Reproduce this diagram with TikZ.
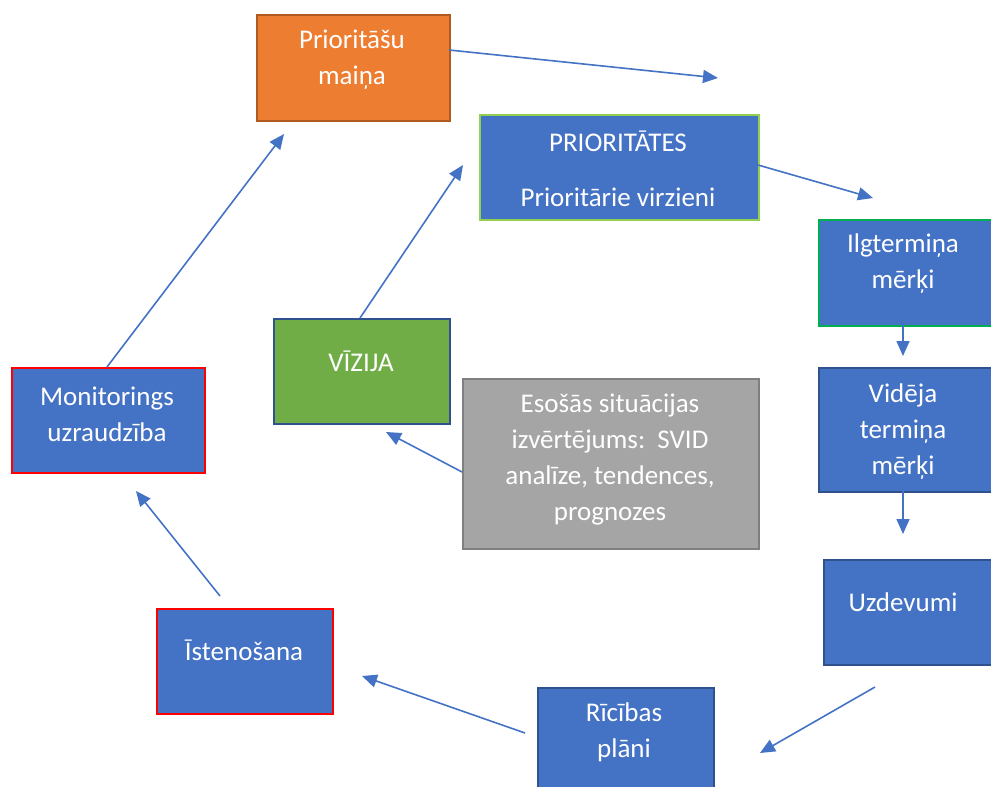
\documentclass[tikz,border=0pt]{standalone}
\usepackage{fontspec}
\setmainfont{Carlito}
\usetikzlibrary{arrows.meta}
\definecolor{bfill}{HTML}{4472C4}
\definecolor{bdraw}{HTML}{2F528F}
\definecolor{ofill}{HTML}{ED7D31}
\definecolor{odraw}{HTML}{AE5A21}
\definecolor{gfill}{HTML}{70AD47}
\definecolor{lgreen}{HTML}{92D050}
\definecolor{dgreen}{HTML}{00B050}
\definecolor{rdraw}{HTML}{FF0000}
\definecolor{grfill}{HTML}{A5A5A5}
\definecolor{grdraw}{HTML}{7F7F7F}
\definecolor{arr}{HTML}{4472C4}
\tikzset{
  box/.style={draw=bdraw, fill=bfill, line width=1.8pt, inner sep=0pt, anchor=north west},
  txt/.style={text=white, font=\fontsize{27}{36}\selectfont, align=center, inner sep=0pt},
  conn/.style={draw=arr, line width=1.6pt, -{Triangle[length=15pt,width=13pt]}}
}
\begin{document}
\begin{tikzpicture}[x=1pt,y=-1pt]
\useasboundingbox (0,0) rectangle (991,787);
% boxes
\node[box, fill=ofill, draw=odraw, minimum width=193pt, minimum height=106pt] (pm) at (256,14) {};
\node[box, draw=lgreen, minimum width=279pt, minimum height=105pt] (pr) at (479,114) {};
\node[box, draw=dgreen, minimum width=190pt, minimum height=106pt] (il) at (818,219) {};
\node[box, minimum width=190pt, minimum height=124pt] (vi) at (818,367) {};
\node[box, minimum width=190pt, minimum height=105pt] (uz) at (823,559) {};
\node[box, minimum width=176pt, minimum height=110pt] (ri) at (537,687) {};
\node[box, draw=rdraw, minimum width=176pt, minimum height=105pt] (is) at (156,608) {};
\node[box, draw=rdraw, minimum width=193pt, minimum height=105pt] (mo) at (11,367) {};
\node[box, fill=gfill, minimum width=176pt, minimum height=105pt] (vz) at (273,318) {};
\node[box, fill=grfill, draw=grdraw, minimum width=296pt, minimum height=170pt] (gr) at (462,378) {};
% texts
\node[txt] (tpm) at (352,60) {Prioritāšu\\maiņa};
\node[txt] (tpr) at (618,169) {PRIORITĀTES\\[19pt]Prioritārie virzieni};
\node[txt] (til) at (903,264) {Ilgtermiņa\\mērķi};
\node[txt] (tvi) at (903,432) {Vidēja\\termiņa\\mērķi};
\node[txt] (tuz) at (903,602) {Uzdevumi};
\node[txt] (tri) at (624,732) {Rīcības\\plāni};
\node[txt] (tis) at (244,650) {Īstenošana};
\node[txt] (tmo) at (107,414) {Monitorings\\uzraudzība};
\node[txt] (tvz) at (361,361) {VĪZIJA};
\node[txt] (tgr) at (610,460) {Esošās situācijas\\izvērtējums:\ \ SVID\\analīze, tendences,\\prognozes};
% connector end points
\coordinate (a1s) at (449,50);   \coordinate (a1e) at (718,78);
\coordinate (a2s) at (758,165);  \coordinate (a2e) at (873,198);
\coordinate (a3s) at (903,325);  \coordinate (a3e) at (903,356);
\coordinate (a4s) at (903,491);  \coordinate (a4e) at (903,534);
\coordinate (a5s) at (875,687);  \coordinate (a5e) at (760,753);
\coordinate (a6s) at (525,733);  \coordinate (a6e) at (362,676);
\coordinate (a7s) at (220,596);  \coordinate (a7e) at (136,491);
\coordinate (a8s) at (107,367);  \coordinate (a8e) at (284,134);
\coordinate (a9s) at (360,318);  \coordinate (a9e) at (463,165);
\coordinate (a10s) at (462,472); \coordinate (a10e) at (386,432);
\draw[conn] (a1s) -- (a1e);
\draw[conn] (a2s) -- (a2e);
\draw[conn] (a3s) -- (a3e);
\draw[conn] (a4s) -- (a4e);
\draw[conn] (a5s) -- (a5e);
\draw[conn] (a6s) -- (a6e);
\draw[conn] (a7s) -- (a7e);
\draw[conn] (a8s) -- (a8e);
\draw[conn] (a9s) -- (a9e);
\draw[conn] (a10s) -- (a10e);
\end{tikzpicture}
\end{document}
